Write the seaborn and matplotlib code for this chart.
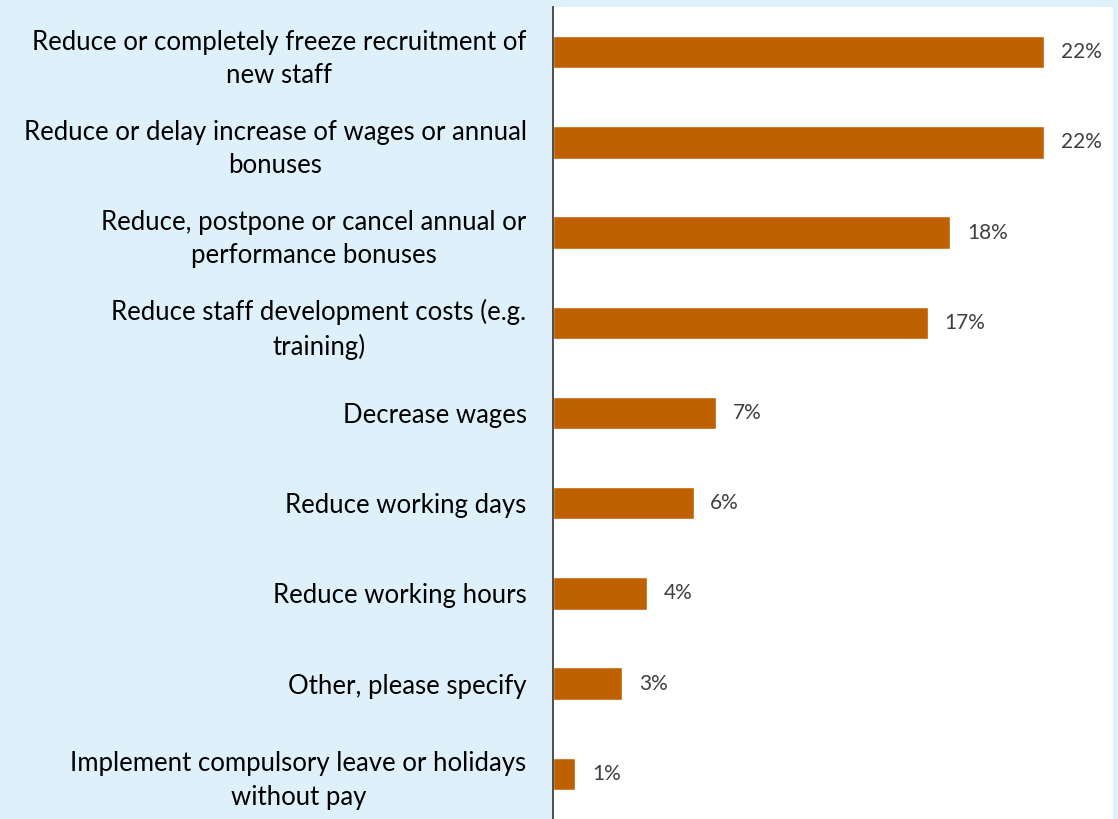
import matplotlib
matplotlib.use("Agg")
import matplotlib.pyplot as plt
import seaborn as sns
import pandas as pd

categories = [
    "Reduce or completely freeze recruitment of\nnew staff",
    "Reduce or delay increase of wages or annual\nbonuses",
    "Reduce, postpone or cancel annual or\nperformance bonuses",
    "Reduce staff development costs (e.g.\ntraining)",
    "Decrease wages",
    "Reduce working days",
    "Reduce working hours",
    "Other, please specify",
    "Implement compulsory leave or holidays\nwithout pay",
]
values = [22.0, 22.0, 17.8, 16.8, 7.3, 6.3, 4.2, 3.1, 1.0]
value_labels = ["22%", "22%", "18%", "17%", "7%", "6%", "4%", "3%", "1%"]

df = pd.DataFrame({"category": categories, "value": values})

sns.set_theme(style="white")
plt.rcParams["font.family"] = ["Lato", "DejaVu Sans"]

bg = "#DEF1FB"
fig = plt.figure(figsize=(11.18, 8.19), dpi=100, facecolor=bg)
ax = fig.add_axes([553 / 1118, 0, (1113 - 553) / 1118, (819 - 7) / 819])
ax.set_facecolor("white")

sns.barplot(data=df, x="value", y="category", orient="h", color="#BF6100",
            width=0.36, ax=ax, saturation=1)

ax.set_xlim(0, 25.1)
ax.set_ylim(8.5, -0.5)
ax.set_xlabel("")
ax.set_ylabel("")
ax.set_xticks([])
for s in ["top", "right", "bottom"]:
    ax.spines[s].set_visible(False)
ax.spines["left"].set_color("#404040")
ax.spines["left"].set_linewidth(1.3)
ax.tick_params(axis="y", length=0, pad=19)
for t in ax.get_yticklabels():
    t.set_fontsize(18.5)
    t.set_color("black")
    t.set_multialignment("center")
    t.set_linespacing(1.42)

for i, (v, lab) in enumerate(zip(values, value_labels)):
    ax.annotate(lab, xy=(v, i), xytext=(12, 0), textcoords="offset points",
                va="center", ha="left", fontsize=15, color="#404040")

fig.savefig("out.png", dpi=100, facecolor=bg)
